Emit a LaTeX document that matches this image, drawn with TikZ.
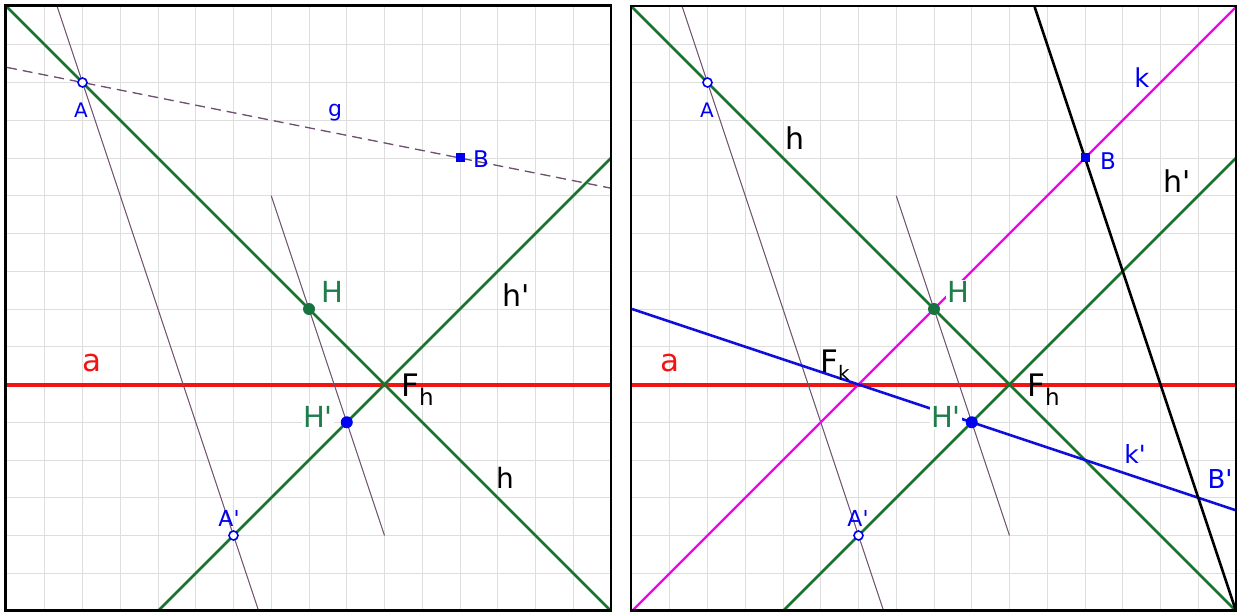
\documentclass[tikz,border=0pt]{standalone}
\usepackage{fontspec}
\setmainfont{DejaVu Sans}
\usetikzlibrary{calc}
\definecolor{gline}{RGB}{25,115,45}
\definecolor{gtext}{RGB}{30,125,75}
\definecolor{gdot}{RGB}{25,115,65}
\definecolor{purp}{RGB}{110,80,110}
\definecolor{gridc}{RGB}{222,222,222}
\definecolor{ptblue}{RGB}{0,0,240}
\definecolor{kblue}{RGB}{15,15,225}
\definecolor{ared}{RGB}{240,20,20}
\definecolor{mag}{RGB}{245,0,245}
\newcommand{\pr}{\textquotesingle}
\tikzset{
 gridline/.style={draw=gridc, line width=0.9pt},
 frame/.style={draw=black, line width=2.5pt},
 redl/.style={draw=ared, line width=4pt},
 greenl/.style={draw=gline, line width=2.6pt},
 purpl/.style={draw=purp, line width=1pt},
 gdash/.style={draw=purp, line width=1.3pt, dash pattern=on 10pt off 6pt},
 magl/.style={draw=mag, line width=2.2pt},
 bluel/.style={draw=kblue, line width=2.6pt},
 blackl/.style={draw=black, line width=2.6pt},
 openpt/.style={circle, draw=ptblue, fill=white, line width=1.6pt, inner sep=0pt, minimum size=9pt},
 dotpt/.style={circle, fill=#1, inner sep=0pt, minimum size=12pt},
 sqpt/.style={rectangle, fill=ptblue, inner sep=0pt, minimum size=9pt},
 lbl/.style={anchor=base, inner sep=0pt, font=\fontsize{#1}{#1}\selectfont},
 wbox/.style={fill=white, inner sep=1.5pt},
}
\begin{document}
\begin{tikzpicture}[x=1pt,y=-1pt]
\useasboundingbox (0,0) rectangle (1237,612);
\foreach \s/\p in {7/L,632/R}{
 \begin{scope}[shift={(\s,7)}, x=37.75pt, y=-37.75pt]
  \foreach \i in {1,...,15}{
   \draw[gridline] (\i,0) -- (\i,16);
   \draw[gridline] (0,\i) -- (16,\i);
  }
  \coordinate (\p A) at (2,2);
  \coordinate (\p Ap) at (6,14);
  \coordinate (\p H) at (8,8);
  \coordinate (\p Hp) at (9,11);
  \coordinate (\p F) at (10,10);
  \coordinate (\p aW) at (0,10);
  \coordinate (\p aE) at (16,10);
  \draw[redl] (\p aW) -- (\p aE);
  \draw[purpl] ($(\p A)!-0.1666667!(\p Ap)$) -- ($(\p A)!1.1666667!(\p Ap)$);
  \draw[purpl] ($(\p H)!-1!(\p Hp)$) -- ($(\p H)!2!(\p Hp)$);
  \draw[greenl] ($(\p A)!-0.25!(\p F)$) -- ($(\p A)!1.75!(\p F)$);
  \draw[greenl] ($(\p F)!1.5!(\p Ap)$) -- ($(\p F)!-6!(\p Hp)$);
 \end{scope}
}
% left panel specific
\begin{scope}[shift={(7,7)}, x=37.75pt, y=-37.75pt]
 \coordinate (LB) at (12,4);
 \draw[gdash] ($(LA)!-0.2!(LB)$) -- ($(LA)!1.4!(LB)$);
 \node[sqpt] (LBm) at (LB) {};
\end{scope}
% right panel specific
\begin{scope}[shift={(632,7)}, x=37.75pt, y=-37.75pt]
 \coordinate (RB) at (12,4);
 \coordinate (RFk) at (6,10);
 \coordinate (RBp) at (15,13);
 \draw[magl] ($(RH)!-2!(RB)$) -- ($(RH)!2!(RB)$);
 \draw[bluel] ($(RFk)!-2!(RHp)$) -- ($(RFk)!3.3333333!(RHp)$);
 \draw[blackl] ($(RB)!-0.4444444!(RBp)$) -- ($(RB)!1.3333333!(RBp)$);
 \node[sqpt] (RBm) at (RB) {};
\end{scope}
% points
\foreach \p in {L,R}{
 \node[openpt] (\p Am) at (\p A) {};
 \node[openpt] (\p Apm) at (\p Ap) {};
 \node[dotpt=gdot] (\p Hm) at (\p H) {};
 \node[dotpt=ptblue] (\p Hpm) at (\p Hp) {};
}
% labels left
\node[lbl=20, text=ptblue] (LAl) at (81,118) {A};
\node[lbl=22, text=ptblue] (Lgl) at (335,117) {g};
\node[lbl=23, text=ptblue] (LBl) at (481,168) {B};
\node[lbl=29, text=gtext, wbox] (LHl) at (332,303) {H};
\node[lbl=30] (Lhpl) at (516,307) {h\pr};
\node[lbl=31, text=ared] (Lal) at (92,371) {a};
\node[anchor=base west, inner sep=0pt, font=\fontsize{31}{31}\selectfont] (LFhl) at (401,396) {F\raisebox{-9pt}{\fontsize{23}{23}\selectfont h}};
\node[lbl=29, text=gtext, wbox] (LHpl) at (318,427) {H\pr};
\node[lbl=28] (Lhl) at (505,488) {h};
\node[lbl=22, text=ptblue] (LApl) at (229,526) {A\pr};
% labels right
\node[lbl=20, text=ptblue] (RAl) at (707,118) {A};
\node[lbl=30] (Rhl) at (795,150) {h};
\node[lbl=26, text=ptblue] (Rkl) at (1142,88) {k};
\node[lbl=23, text=ptblue] (RBl) at (1108,170) {B};
\node[lbl=30] (Rhpl) at (1177,193) {h\pr};
\node[lbl=29, text=gtext, wbox] (RHl) at (958,303) {H};
\node[lbl=31, text=ared] (Ral) at (670,371) {a};
\node[anchor=base west, inner sep=0pt, font=\fontsize{31}{31}\selectfont] (RFkl) at (820,372) {F\raisebox{-9pt}{\fontsize{20}{20}\selectfont k}};
\node[anchor=base west, inner sep=0pt, font=\fontsize{31}{31}\selectfont] (RFhl) at (1027,396) {F\raisebox{-9pt}{\fontsize{23}{23}\selectfont h}};
\node[lbl=29, text=gtext, wbox] (RHpl) at (946,427) {H\pr};
\node[lbl=25, text=ptblue] (Rkpl) at (1135,463) {k\pr};
\node[lbl=26, text=ptblue] (RBpl) at (1220,488) {B\pr};
\node[lbl=22, text=ptblue] (RApl) at (858,526) {A\pr};
% frames
\draw[frame] (5.5,5.5) rectangle (611,610.5);
\draw[frame] (631,6) rectangle (1236.5,610.5);
\end{tikzpicture}
\end{document}
